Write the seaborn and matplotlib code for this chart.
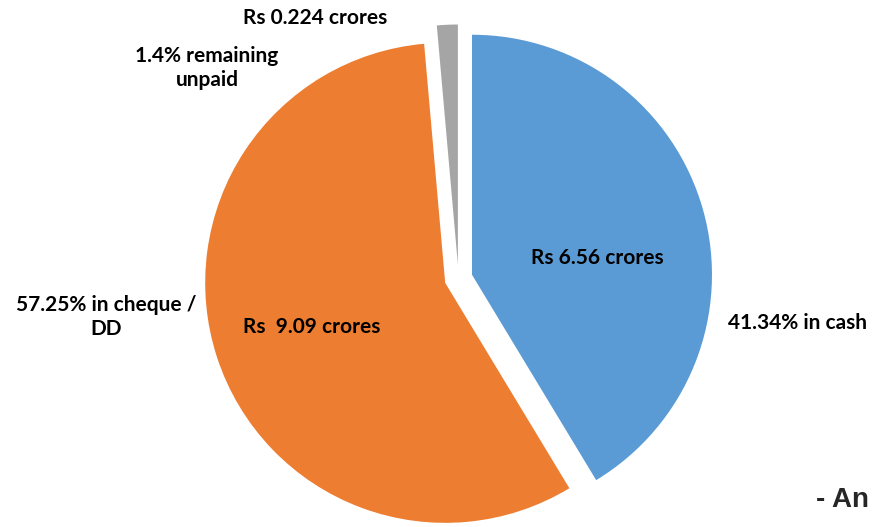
import matplotlib
matplotlib.use("Agg")
import matplotlib.pyplot as plt
import seaborn as sns

# payment split (percent of total)
modes = ["cash", "cheque / DD", "unpaid"]
shares = [41.34, 57.25, 1.40]
amounts = ["Rs 6.56 crores", "Rs  9.09 crores", "Rs 0.224 crores"]
outer_labels = ["41.34% in cash", "57.25% in cheque /\nDD", "1.4% remaining\nunpaid"]
colors = ["#5B9BD5", "#ED7D31", "#A5A5A5"]

W, H = 875, 527

sns.set_theme(style="white")
plt.rcParams["font.family"] = ["Lato", "DejaVu Sans"]

fig = plt.figure(figsize=(W / 100, H / 100), dpi=100)
ax = fig.add_axes([0, 0, 1, 1])

# explode is in data units here (radius is 240)
ax.pie(shares, colors=colors, startangle=90, counterclock=False,
       explode=[14, 14, 14], radius=240, center=(458.5, H - 278.5),
       frame=True, wedgeprops=dict(linewidth=0))

ax.set_xlim(0, W)
ax.set_ylim(0, H)
ax.set_aspect("equal")
ax.axis("off")

# label placements (pixel coords from top-left, as in the original)
amount_pos = [(597, 258), (312, 327), (315, 18)]
outer_pos = [(798, 323), (106, 317), (207, 68)]

for txt, (x, y) in zip(amounts, amount_pos):
    ax.text(x, H - y, txt, ha="center", va="center", fontsize=15,
            fontweight="bold", color="black")
for txt, (x, y) in zip(outer_labels, outer_pos):
    ax.text(x, H - y, txt, ha="center", va="center", fontsize=15,
            fontweight="bold", color="black", linespacing=1.2)

ax.text(842, H - 500, "- An", ha="center", va="center", fontsize=20,
        fontweight="bold", family=["Liberation Sans", "DejaVu Sans"])

fig.savefig("out.png", dpi=100)
